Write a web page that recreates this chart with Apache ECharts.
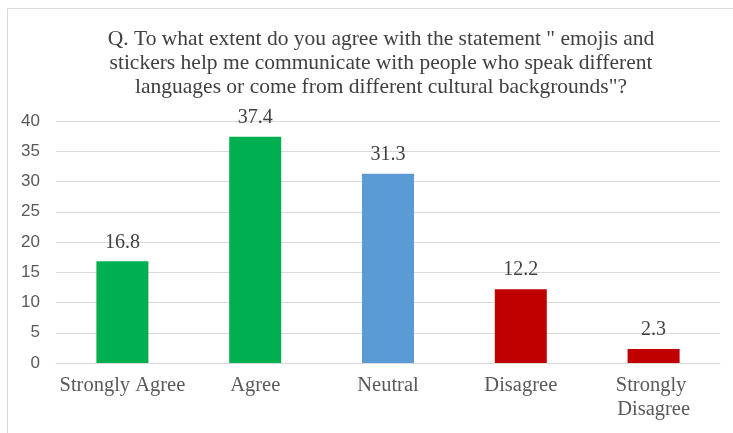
<!DOCTYPE html>
<html>
<head>
<meta charset="utf-8">
<script src="https://cdn.jsdelivr.net/npm/echarts@6/dist/echarts.min.js"></script>
<style>
  html, body { margin: 0; padding: 0; background: #fff; }
  #chart { width: 733px; height: 433px; }
</style>
</head>
<body>
<div id="chart"></div>
<script>
// Survey responses (percent of respondents)
const categories = ['Strongly Agree', 'Agree', 'Neutral', 'Disagree', 'Strongly Disagree'];
const percentages = [16.8, 37.4, 31.3, 12.2, 2.3];
const barColors = ['#00B050', '#00B050', '#5B9BD5', '#C00000', '#C00000'];
const yTicks = { min: 0, max: 40, interval: 5 };

const titleText = 'Q. To what extent do you agree with the statement " emojis and\n' +
  'stickers help me communicate with people who speak different\n' +
  'languages or come from different cultural backgrounds"?';

const serif = '"Liberation Serif", "DejaVu Serif", serif';

const chart = echarts.init(document.getElementById('chart'), null, { renderer: 'canvas' });

chart.setOption({
  animation: false,
  backgroundColor: '#ffffff',
  title: {
    text: titleText,
    left: 376,
    top: 22,
    textAlign: 'center',
    textStyle: {
      fontFamily: serif,
      fontSize: 21.5,
      fontWeight: 'normal',
      color: '#404040',
      lineHeight: 24
    }
  },
  graphic: [
    { type: 'line', shape: { x1: 7.5, y1: 8.5, x2: 7.5, y2: 433 }, style: { stroke: '#d9d9d9', lineWidth: 1 } },
    { type: 'line', shape: { x1: 7.5, y1: 8.5, x2: 733, y2: 8.5 }, style: { stroke: '#d9d9d9', lineWidth: 1 } }
  ],
  grid: { left: 56, right: 13, top: 121, bottom: 70 },
  xAxis: {
    type: 'category',
    data: categories,
    axisTick: { show: false },
    axisLine: { lineStyle: { color: '#d9d9d9', width: 1 } },
    axisLabel: {
      fontFamily: serif,
      fontSize: 20.5,
      color: '#595959',
      margin: 11,
      lineHeight: 24,
      width: 132,
      overflow: 'break',
      interval: 0
    }
  },
  yAxis: {
    type: 'value',
    min: yTicks.min,
    max: yTicks.max,
    interval: yTicks.interval,
    axisLine: { show: false },
    axisTick: { show: false },
    splitLine: { lineStyle: { color: '#d9d9d9', width: 1 } },
    axisLabel: {
      fontFamily: '"Liberation Sans", Arial, sans-serif',
      fontSize: 17,
      color: '#595959',
      margin: 16
    }
  },
  series: [{
    type: 'bar',
    barWidth: 52,
    data: percentages.map((v, i) => ({ value: v, itemStyle: { color: barColors[i] } })),
    label: {
      show: true,
      position: 'top',
      distance: 9,
      fontFamily: serif,
      fontSize: 20,
      color: '#404040'
    }
  }]
});
</script>
</body>
</html>
